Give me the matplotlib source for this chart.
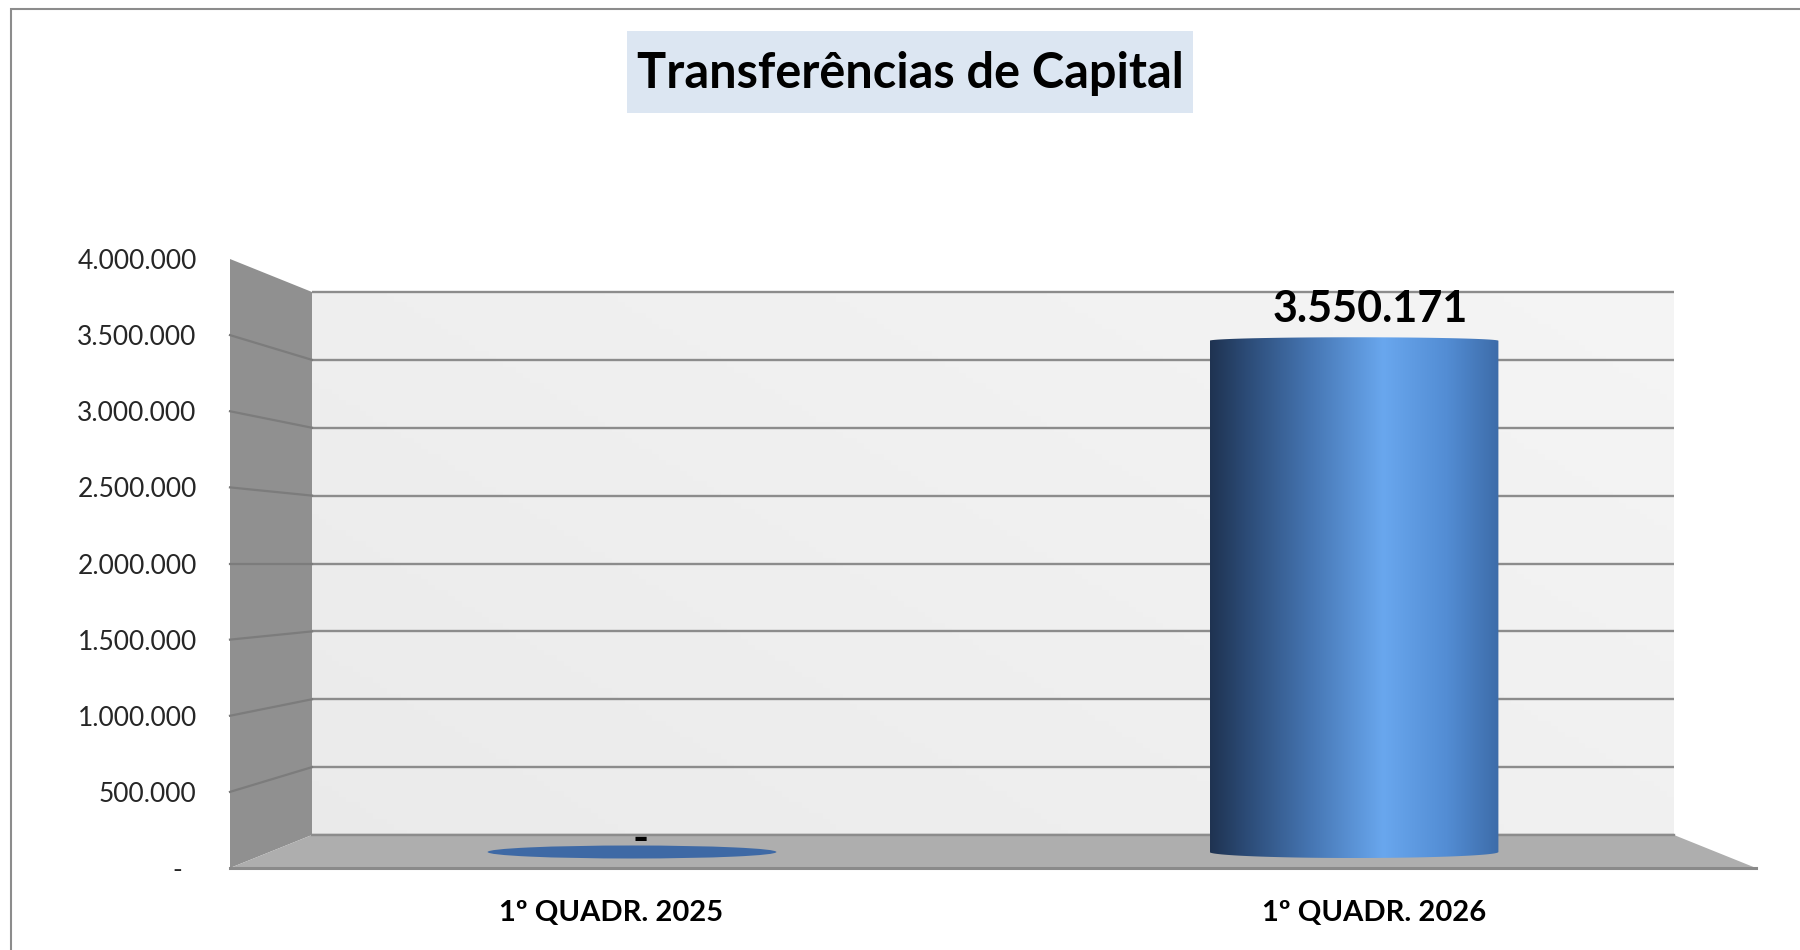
import numpy as np
import matplotlib.pyplot as plt
from matplotlib.patches import Polygon, Rectangle, Ellipse, PathPatch
from matplotlib.path import Path
from matplotlib.colors import LinearSegmentedColormap
from matplotlib.ticker import FuncFormatter

plt.rcParams['font.family'] = ['Lato', 'DejaVu Sans']

# data
title = 'Transferências de Capital'
categories = ['1º QUADR. 2025', '1º QUADR. 2026']
values = [0, 3550171]
y_ticks = [0, 500000, 1000000, 1500000, 2000000, 2500000, 3000000, 3500000, 4000000]
y_max = 4000000


def br_fmt(v, pos=None):
    if v == 0:
        return '-  '
    return f'{v:,.0f}'.replace(',', '.')


W, H = 1800, 950
fig = plt.figure(figsize=(W / 100, H / 100), dpi=100)


def box(l, t, r, b):
    return [l / W, 1 - b / H, (r - l) / W, (b - t) / H]


# three planes of the fake 3d box: back wall, bar depth, front edge
ax_back = fig.add_axes(box(312, 292, 1674, 835), zorder=1)
ax_mid = fig.add_axes(box(271, 276, 1715, 852), zorder=2)
ax_front = fig.add_axes(box(230, 259, 1756, 868), zorder=3)

ax_back.set_xlim(0, 1)
ax_back.set_ylim(0, y_max)
ax_front.set_xlim(-0.5, 1.5)
ax_front.set_ylim(0, y_max)
ax_mid.set_xlim(-0.5, 1.5)
ax_mid.set_ylim(0, y_max)

# back wall with a soft gradient
gx, gy = np.meshgrid(np.linspace(0, 1, 200), np.linspace(0, 1, 100))
shade = 0.92 + 0.04 * (0.6 * gx + 0.4 * gy)
ax_back.imshow(np.dstack([shade, shade, shade]), extent=[0, 1, 0, y_max],
               aspect='auto', origin='lower', zorder=0)
ax_back.hlines(y_ticks, 0, 1, color='#8C8C8C', lw=1.7, zorder=2, clip_on=False)
ax_back.axis('off')


def front_to_back(x, y):
    d = ax_front.transData.transform((x, y))
    return ax_back.transData.inverted().transform(d)


# left side wall
fl0 = front_to_back(-0.5, 0)
fl1 = front_to_back(-0.5, y_max)
fr0 = front_to_back(1.5, 0)
wall = Polygon([fl0, fl1, (0, y_max), (0, 0)], closed=True, fc='#909090',
               ec='none', zorder=3, clip_on=False)
ax_back.add_patch(wall)
for v in y_ticks[1:-1]:
    p = front_to_back(-0.5, v)
    ax_back.plot([p[0], 0], [p[1], v], color='#7C7C7C', lw=1.6, zorder=4, clip_on=False)

# floor
floor = Polygon([fl0, (0, 0), (1, 0), fr0], closed=True, fc='#AEAEAE',
                ec='none', zorder=3, clip_on=False)
ax_back.add_patch(floor)
ax_back.plot([0, 1], [0, 0], color='#8C8C8C', lw=1.7, zorder=4, clip_on=False)
ax_back.plot([fl0[0], fr0[0]], [fl0[1], fr0[1]], color='#8A8A8A', lw=2.2,
             zorder=4, clip_on=False)

# bars drawn as cylinders at mid depth
bar_width = 0.40
bars = ax_mid.bar(range(len(values)), values, width=bar_width, color='none')
unit = y_max / (ax_mid.get_position().height * H)  # data units per pixel
hb = 6 * unit
ht = 3.5 * unit

cyl = LinearSegmentedColormap.from_list('cyl', [
    (0.00, '#1F3351'), (0.12, '#2B4A75'), (0.35, '#4676B3'),
    (0.60, '#69A7EE'), (0.82, '#538DD4'), (1.00, '#3D6CA9')])
grad = np.linspace(0, 1, 256).reshape(1, -1)

for rect, v in zip(bars, values):
    x0 = rect.get_x()
    x1 = x0 + rect.get_width()
    c = (x0 + x1) / 2
    a = (x1 - x0) / 2
    if v == 0:
        ax_mid.add_patch(Ellipse((c, 0), 2 * a, 2 * 6.5 * unit, fc='#3E69A5',
                                 ec='none', zorder=3, clip_on=False))
        ax_mid.annotate('-', (c, 0), xytext=(9, 13), textcoords='offset pixels',
                        ha='center', va='center', fontsize=31, fontweight='bold',
                        color='black', zorder=5, annotation_clip=False)
        continue
    t = np.linspace(np.pi, 2 * np.pi, 60)
    bottom = np.column_stack([c + a * np.cos(t), hb * np.sin(t)])
    t2 = np.linspace(0, np.pi, 60)
    top = np.column_stack([c + a * np.cos(t2), v + ht * np.sin(t2)])
    verts = np.vstack([bottom, top, bottom[:1]])
    codes = [Path.MOVETO] + [Path.LINETO] * (len(verts) - 2) + [Path.CLOSEPOLY]
    shape = PathPatch(Path(verts, codes), fc='none', ec='none', clip_on=False)
    ax_mid.add_patch(shape)
    im = ax_mid.imshow(grad, extent=[x0, x1, -hb, v + ht], aspect='auto',
                       cmap=cyl, zorder=3)
    im.set_clip_box(fig.bbox)
    im.set_clip_path(shape)
    ax_mid.annotate(br_fmt(v), (c, v), xytext=(16, 12), textcoords='offset pixels',
                    ha='center', va='bottom', fontsize=31, fontweight='bold',
                    color='black', zorder=5)

ax_mid.set_xlim(-0.5, 1.5)
ax_mid.set_ylim(0, y_max)
ax_mid.axis('off')

# front plane carries the tick labels
ax_front.patch.set_visible(False)
for s in ax_front.spines.values():
    s.set_visible(False)
ax_front.set_yticks(y_ticks)
ax_front.yaxis.set_major_formatter(FuncFormatter(br_fmt))
ax_front.set_xticks(range(len(categories)))
ax_front.set_xticklabels(categories, fontsize=21, fontweight='bold', color='black')
ax_front.tick_params(axis='y', length=0, pad=24, labelsize=19, labelcolor='#262626')
ax_front.tick_params(axis='x', length=0, pad=23)

# title with its pale blue box
fig.add_artist(Rectangle((627 / W, 1 - 113 / H), 566 / W, 82 / H,
                         transform=fig.transFigure, fc='#DCE6F2', ec='none', zorder=5))
fig.text(910 / W, 1 - 74 / H, title, ha='center', va='center', fontsize=35,
         fontweight='bold', color='black', zorder=6)

# chart area border
fig.add_artist(Rectangle((11 / W, -0.5), 2, 1.5 - 9 / H, transform=fig.transFigure,
                         fill=False, ec='#8C8C8C', lw=1.5, zorder=0))

fig.savefig('out.png', dpi=100)
